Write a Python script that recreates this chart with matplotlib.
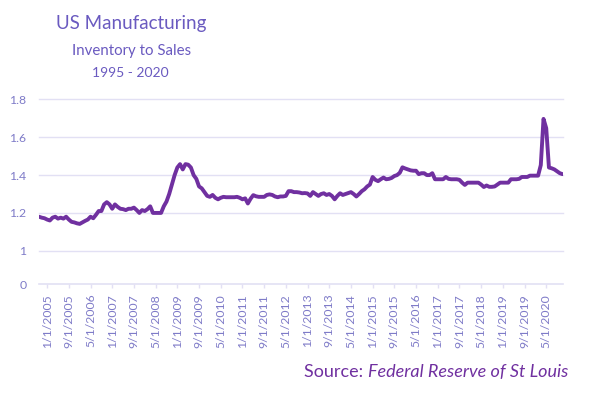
import matplotlib
matplotlib.use("Agg")
import matplotlib.pyplot as plt
import numpy as np

plt.rcParams['font.family'] = ['Lato', 'DejaVu Sans']

# month index 0 = Jan 2005; data runs Oct 2004 .. Nov 2020
start_month = -3
ratio = [
    1.180, 1.175, 1.172,                                    # Oct-Dec 2004
    1.165, 1.160, 1.175, 1.180, 1.170, 1.175, 1.170, 1.180, 1.165, 1.153, 1.150, 1.145,  # 2005
    1.142, 1.150, 1.158, 1.165, 1.180, 1.172, 1.190, 1.210, 1.210, 1.245, 1.257, 1.245,  # 2006
    1.222, 1.245, 1.232, 1.222, 1.220, 1.215, 1.222, 1.222, 1.228, 1.215, 1.200, 1.215,  # 2007
    1.210, 1.220, 1.235, 1.200, 1.200, 1.200, 1.200, 1.235, 1.260, 1.300, 1.350, 1.400,  # 2008
    1.440, 1.458, 1.430, 1.458, 1.455, 1.440, 1.400, 1.380, 1.340, 1.330, 1.310, 1.290,  # 2009
    1.285, 1.295, 1.280, 1.272, 1.280, 1.285, 1.283, 1.283, 1.283, 1.283, 1.285, 1.280,  # 2010
    1.272, 1.277, 1.250, 1.275, 1.294, 1.288, 1.285, 1.285, 1.285, 1.295, 1.298, 1.295,  # 2011
    1.287, 1.283, 1.287, 1.287, 1.290, 1.315, 1.315, 1.310, 1.310, 1.308, 1.304, 1.305,  # 2012
    1.303, 1.290, 1.310, 1.300, 1.290, 1.300, 1.304, 1.295, 1.300, 1.290, 1.272, 1.290,  # 2013
    1.304, 1.295, 1.300, 1.305, 1.310, 1.300, 1.287, 1.300, 1.315, 1.325, 1.340, 1.350,  # 2014
    1.390, 1.375, 1.368, 1.378, 1.387, 1.378, 1.380, 1.385, 1.395, 1.400, 1.412, 1.441,  # 2015
    1.435, 1.430, 1.425, 1.423, 1.423, 1.405, 1.410, 1.410, 1.400, 1.400, 1.410, 1.378,  # 2016
    1.378, 1.378, 1.378, 1.390, 1.380, 1.378, 1.378, 1.378, 1.375, 1.360, 1.348, 1.360,  # 2017
    1.360, 1.360, 1.360, 1.360, 1.350, 1.337, 1.345, 1.338, 1.338, 1.340, 1.350, 1.360,  # 2018
    1.360, 1.360, 1.360, 1.378, 1.378, 1.378, 1.380, 1.390, 1.390, 1.390, 1.397, 1.397,  # 2019
    1.397, 1.397, 1.453, 1.697, 1.648, 1.440, 1.436, 1.430, 1.420, 1.410, 1.405,         # 2020
]
tick_months = list(range(0, 185, 8))
tick_labels = []
for m in tick_months:
    tick_labels.append(f"{m % 12 + 1}/1/{2005 + m // 12}")

y_ticks = [0.824, 1.0, 1.2, 1.4, 1.6, 1.8]
y_labels = ['0', '1', '1.2', '1.4', '1.6', '1.8']

title = "US Manufacturing"
subtitle = "Inventory to Sales"
years = "1995 - 2020"

line_color = '#7030A0'
text_color = '#6A5AC0'
tick_color = '#7F7BC8'
grid_color = '#E2E0F4'

fig = plt.figure(figsize=(6.0, 3.94), dpi=100)
ax = fig.add_axes([0.065, 0.279, 0.8725, 0.4687])

x = np.arange(start_month, start_month + len(ratio))
ax.plot(x, ratio, color=line_color, lw=2.8, solid_joinstyle='round', solid_capstyle='round', zorder=3)

ax.set_xlim(start_month, start_month + len(ratio) - 1)
ax.set_ylim(0.824, 1.8)

ax.set_yticks(y_ticks)
ax.set_yticklabels(y_labels)
ax.set_xticks(tick_months)
ax.set_xticklabels(tick_labels, rotation=90)

for yv in y_ticks[1:]:
    ax.axhline(yv, color=grid_color, lw=1.0, zorder=1, clip_on=False)

for s in ['top', 'right', 'left']:
    ax.spines[s].set_visible(False)
ax.spines['bottom'].set_color(grid_color)
ax.spines['bottom'].set_linewidth(1.2)

ax.tick_params(axis='y', length=0, pad=9, labelsize=8.8, labelcolor=tick_color)
ax.tick_params(axis='x', length=3, width=1, color=grid_color, pad=4, labelsize=8.8, labelcolor=tick_color)

fig.text(131 / 600, 1 - 24 / 394, title, ha='center', va='center', fontsize=13.5, color=text_color)
fig.text(132 / 600, 1 - 51 / 394, subtitle, ha='center', va='center', fontsize=10.8, color=text_color)
fig.text(130 / 600, 1 - 73 / 394, years, ha='center', va='center', fontsize=10, color=text_color)

t1 = fig.text(304 / 600, 1 - 372 / 394, "Source: ", ha='left', va='center', fontsize=13, color=line_color)
fig.canvas.draw()
bb = t1.get_window_extent()
fig.text(bb.x1 / fig.bbox.width, 1 - 372 / 394, "Federal Reserve of St Louis", ha='left', va='center',
         fontsize=13, color=line_color, style='italic')

fig.savefig('out.png', dpi=100)
